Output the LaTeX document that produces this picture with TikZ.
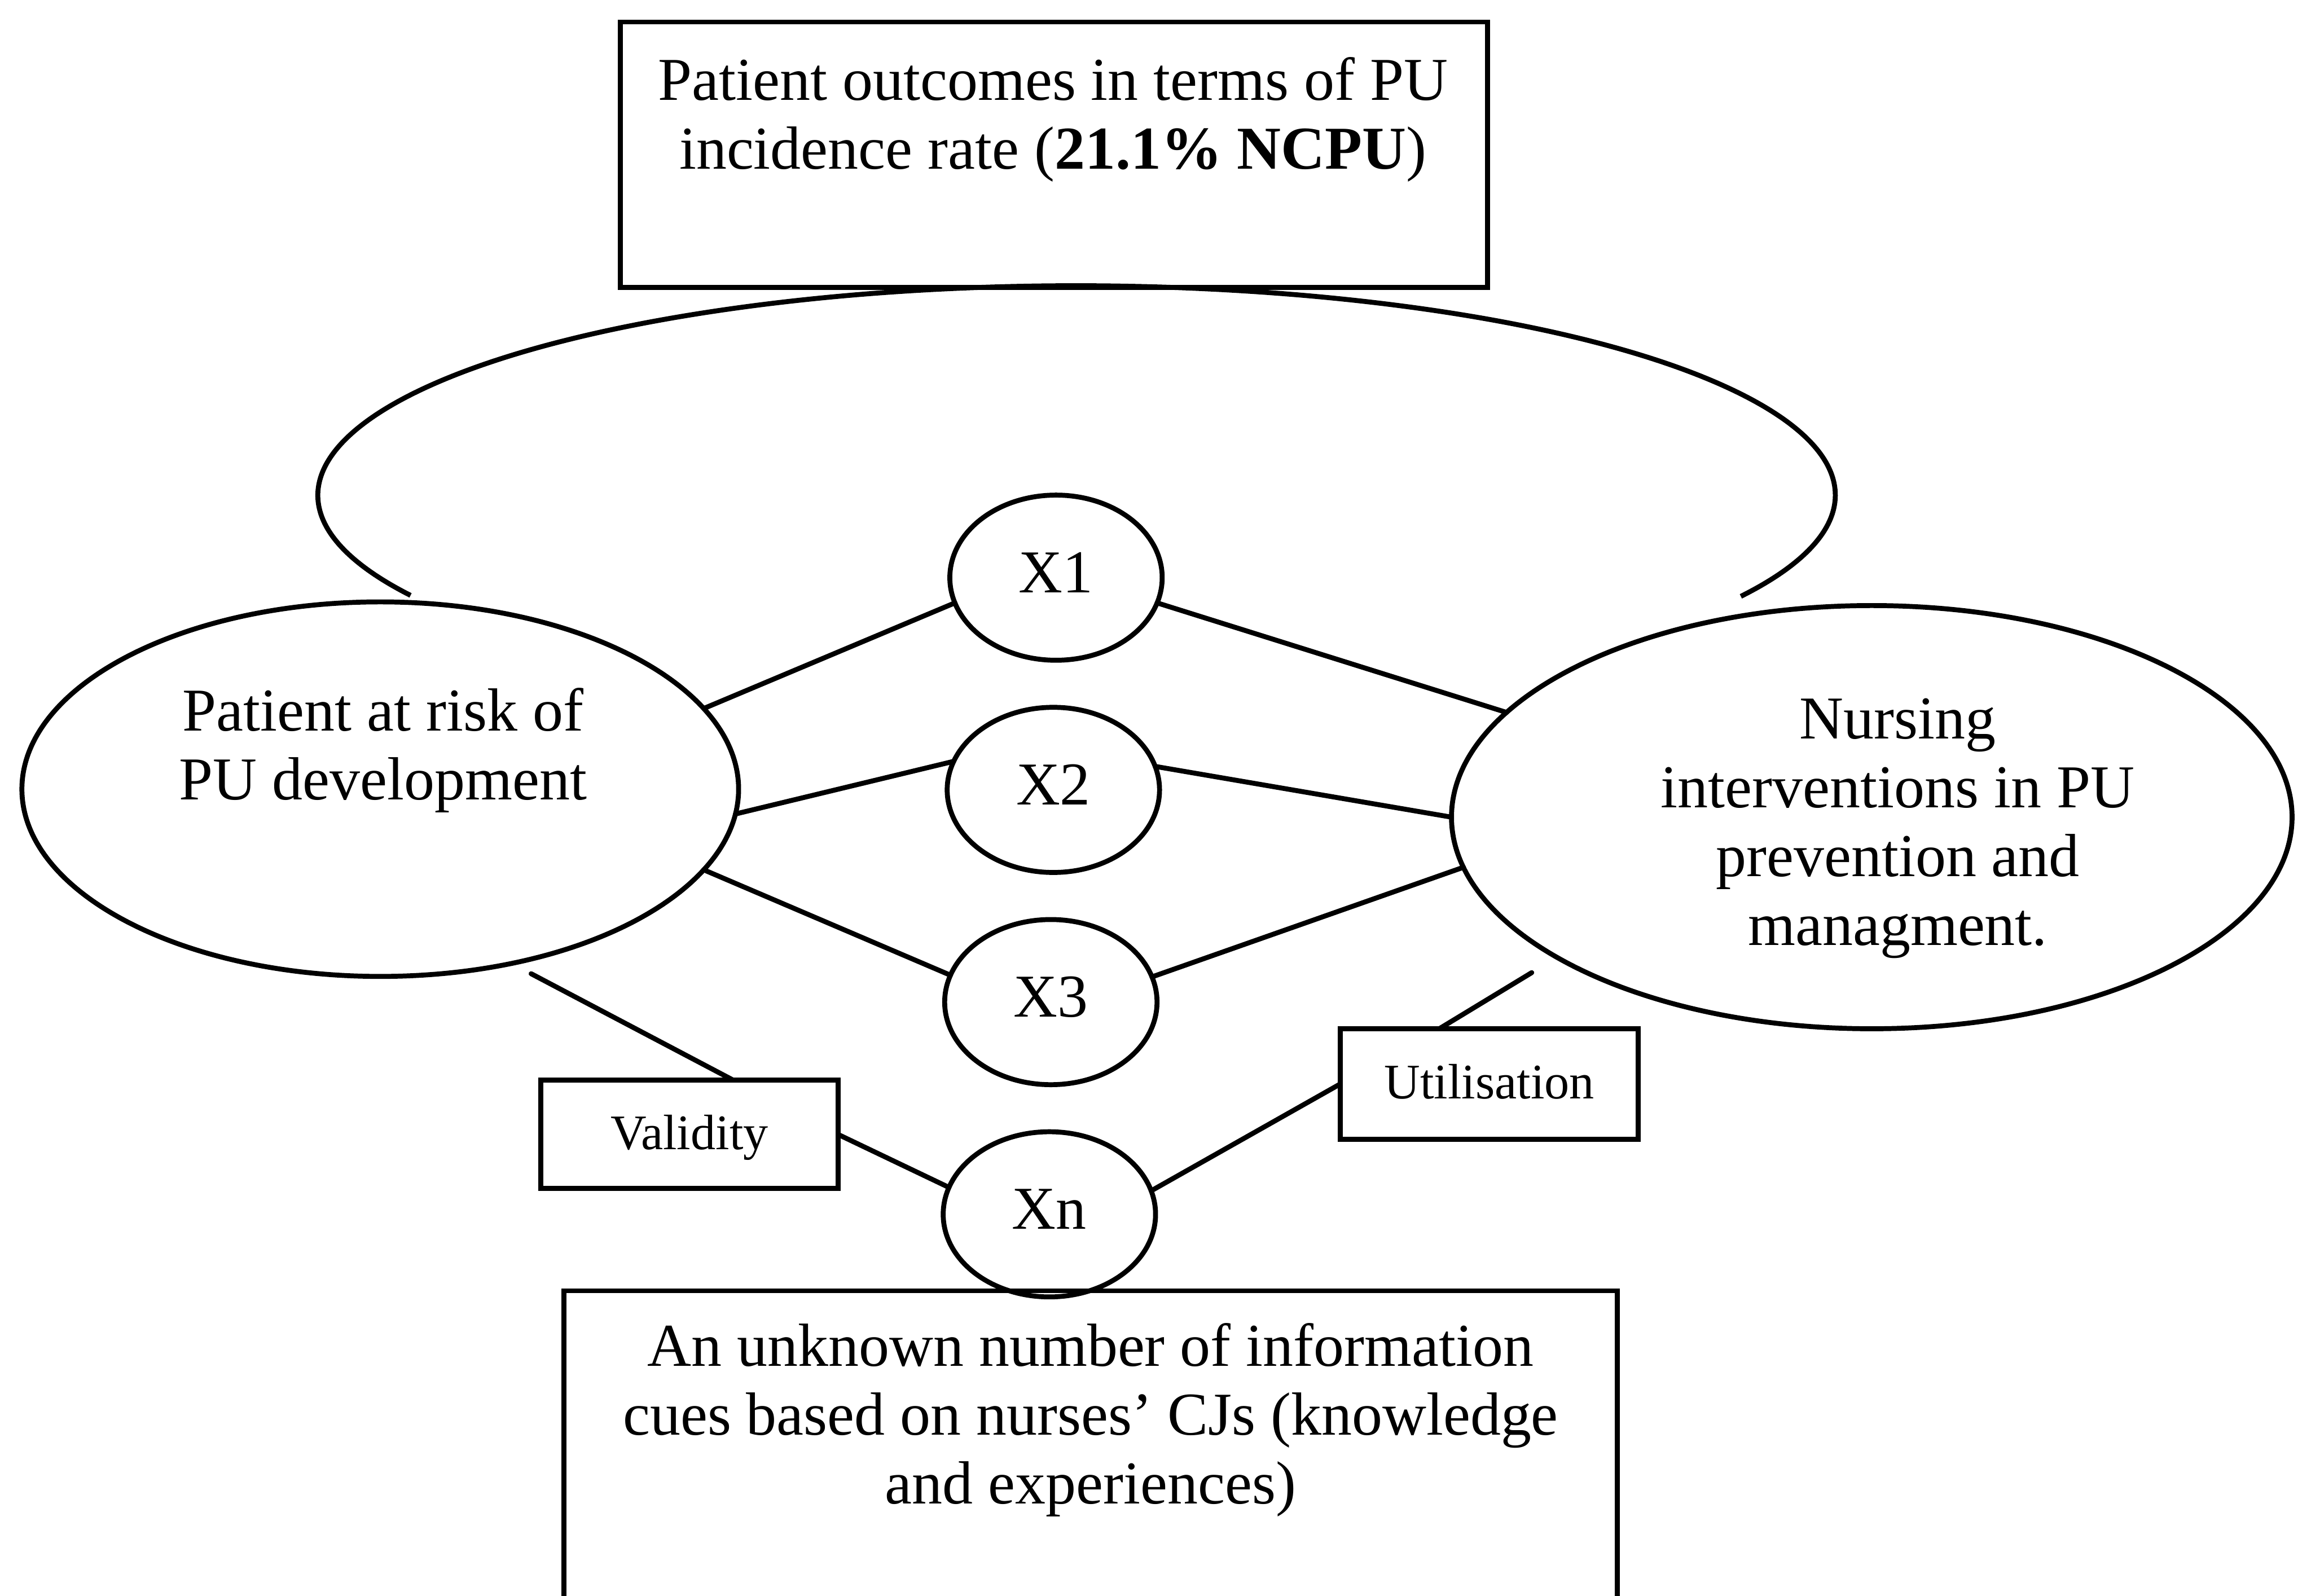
\documentclass[tikz,border=0pt]{standalone}
\usepackage{fontspec}
\setmainfont{Liberation Serif}
\usetikzlibrary{shapes.geometric,calc}

\begin{document}
\begin{tikzpicture}[x=0.01cm, y=-0.01cm, line width=0.95pt,
  oval/.style={draw, ellipse, inner sep=0pt, outer sep=0pt},
  frame/.style={draw, rectangle, inner sep=0pt, outer sep=0pt},
  bigtxt/.style={font=\fontsize{11.75}{13.3}\selectfont, align=center, inner sep=0pt},
  cue/.style={oval, minimum width=1.44cm, minimum height=1.12cm,
    font=\fontsize{11.75}{13.3}\selectfont, text height=8pt, text depth=2.3pt},
  tag/.style={frame, font=\fontsize{9.6}{11.5}\selectfont, text height=6.8pt, text depth=1pt},
  link/.style={draw, line cap=round}]

% page area
\useasboundingbox (0,0) rectangle (1568,1083);
\clip (0,0) rectangle (1568,1083);

% outcome box and the large arc beneath it
\node[frame, minimum width=5.88cm, minimum height=1.8cm] (outcome) at (715,105) {};
\node[bigtxt] (outcomeText) at (714.5,82)
  {\strut Patient outcomes in terms of PU\\\strut incidence rate (\textbf{21.1\% NCPU})};
\coordinate (hub) at (730.5,336);
\draw ([shift={(208.6:5.145cm and 1.42cm)}]hub)
  arc[start angle=208.6, end angle=-28.9, x radius=5.145cm, y radius=1.42cm];

% patient and nursing ellipses
\node[oval, minimum width=4.86cm, minimum height=2.54cm] (risk) at (258,535.5) {};
\node[bigtxt] (riskText) at (260,510) {\strut Patient at risk of\\\strut PU development};
\node[oval, minimum width=5.7cm, minimum height=2.87cm] (care) at (1270,554.5) {};
\node[bigtxt] (careText) at (1287.6,562)
  {\strut Nursing\\\strut interventions in PU\\\strut prevention and\\\strut managment.};

% information cues
\node[cue] (x1) at (716.5,392) {X1};
\node[cue] (x2) at (714.7,536) {X2};
\node[cue] (x3) at (713,680) {X3};
\node[cue] (xn) at (712,824) {Xn};

% validity / utilisation labels
\node[tag, minimum width=2.015cm, minimum height=0.735cm] (valid) at (467.75,769.75) {Validity};
\node[tag, minimum width=2.02cm, minimum height=0.75cm] (util) at (1010.5,735.5) {Utilisation};

% cue description box (runs off the lower edge)
\node[frame, minimum width=7.143cm, minimum height=2.5cm] (cues) at (740,1001) {};
\node[bigtxt] (cuesText) at (740,964.4)
  {\strut An unknown number of information\\\strut cues based on nurses’ CJs (knowledge\\\strut and experiences)};

% connectors
\draw[link] (risk.14) -- (x1.194);
\draw[link] (risk.-4.4) -- (x2.164.5);
\draw[link] (risk.-14) -- (x3.165.6);
\draw[link] (x1.-14.6) -- (care.164.3);
\draw[link] (x2.13.5) -- (care.180);
\draw[link] (x3.14) -- (care.187.1);
\draw[link, shorten <=1.5mm] (risk.-53.6) -- (valid.51);
\draw[link] (valid.east) -- (xn.165.8);
\draw[link] (xn.13.9) -- (util.west);
\draw[link, shorten >=2mm] (util.132) -- (care.204.5);
\end{tikzpicture}
\end{document}
